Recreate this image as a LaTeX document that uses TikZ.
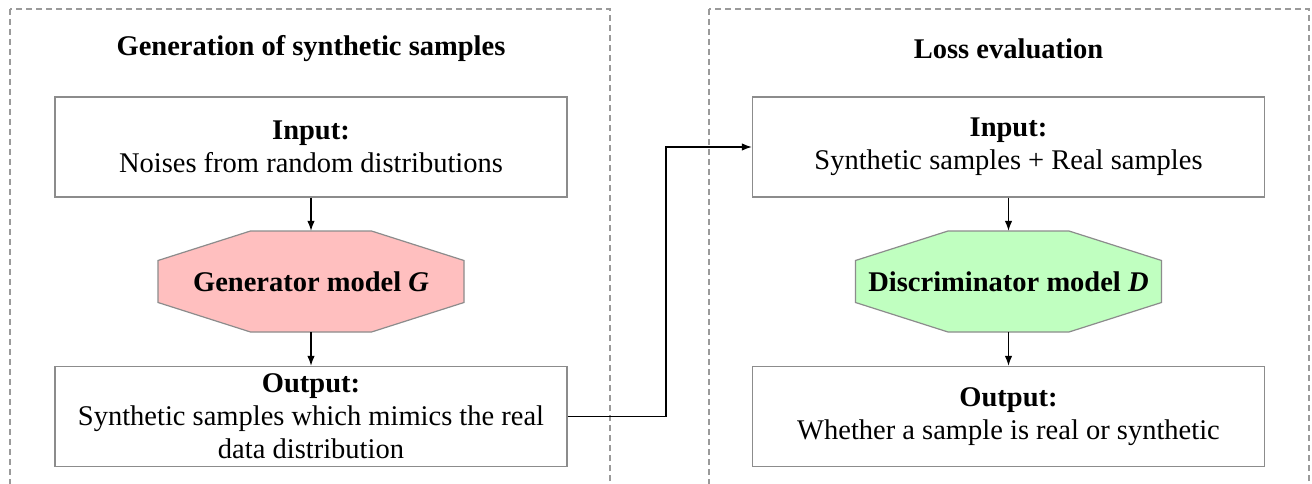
\documentclass[tikz,border=0pt]{standalone}
\usepackage{fontspec}
\setmainfont{Liberation Serif}
\usetikzlibrary{arrows.meta}
\definecolor{boxgray}{HTML}{8C8C8C}
\definecolor{dashgray}{HTML}{9A9A9A}
\definecolor{genpink}{HTML}{FFBFBF}
\definecolor{discgreen}{HTML}{C0FFC0}
\tikzset{
  x=1pt, y=-1pt,
  every node/.style={font=\fontsize{28.5}{33}\selectfont, align=center},
  stage/.style={draw=dashgray, line width=1.2pt, dash pattern=on 6pt off 4pt},
  title/.style={font=\fontsize{28.5}{33}\selectfont\bfseries},
  iobox/.style={draw=boxgray, line width=1.4pt, fill=white,
    minimum width=512pt, minimum height=100pt, inner sep=0pt},
  model/.style={rectangle, minimum width=306pt, minimum height=101pt,
    inner sep=0pt, font=\fontsize{28.5}{33}\selectfont\bfseries},
  octo/.style={draw=boxgray, line width=1.2pt},
  flow/.style={draw=black, line width=1.2pt, -{Latex[length=10pt,width=7.5pt]}}
}
% octagonal outline of a model block, centred on a coordinate
\newcommand\modeloutline[2]{%
  \filldraw[octo, fill=#2, shift={(#1)}]
    (-60.5,-50.5) -- (60.5,-50.5) -- (153,-21) -- (153,21) --
    (60.5,50.5) -- (-60.5,50.5) -- (-153,21) -- (-153,-21) -- cycle;}
\begin{document}
\begin{tikzpicture}
\clip (0,0) rectangle (1312,484);
\fill[white] (0,0) rectangle (1312,484);

% the two stage frames, open at the bottom
\draw[stage] (10,9) rectangle (610,520);
\draw[stage] (709,9) rectangle (1309,520);

% generation stage
\node[title] (t1) at (311,49) {Generation of synthetic samples};
\node[iobox] (gin) at (311,147) {\textbf{Input:}\\Noises from random distributions};
\coordinate (gc) at (311,281.5);
\modeloutline{gc}{genpink}
\node[model] (gen) at (gc) {Generator model \textit{G}};
\node[iobox] (gout) at (311,416.5) {\textbf{Output:}\\Synthetic samples which mimics the real\\data distribution};

% evaluation stage
\node[title] (t2) at (1008.5,49) {Loss evaluation};
\node[iobox] (din) at (1008.5,147) {\textbf{Input:}\\Synthetic samples + Real samples};
\coordinate (dc) at (1008.5,281.5);
\modeloutline{dc}{discgreen}
\node[model] (disc) at (dc) {Discriminator model \textit{D}};
\node[iobox] (dout) at (1008.5,416.5) {\textbf{Output:}\\Whether a sample is real or synthetic};

% connectors
\draw[flow] (gin) -- (gen);
\draw[flow] (gen) -- (gout);
\draw[flow] (din) -- (disc);
\draw[flow] (disc) -- (dout);
\coordinate (bend) at (666,0);
\draw[flow] (gout.east) -- (gout.east -| bend) |- (din.west);
\end{tikzpicture}
\end{document}
